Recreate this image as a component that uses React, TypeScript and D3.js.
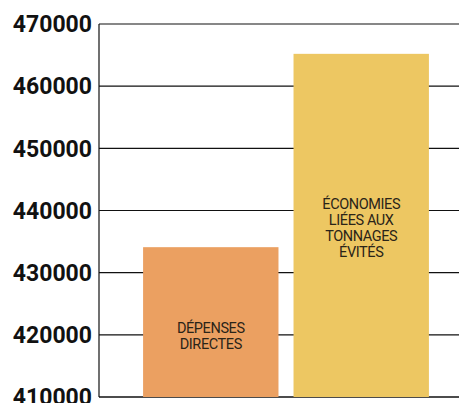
import React from "react";
import * as d3 from "d3";

const categories = ["DÉPENSES DIRECTES", "ÉCONOMIES LIÉES AUX TONNAGES ÉVITÉS"];
const labelLines = [["DÉPENSES", "DIRECTES"], ["ÉCONOMIES", "LIÉES AUX", "TONNAGES", "ÉVITÉS"]];
const values = [434100, 465200];
const colors = ["#EBA061", "#EDC762"];
const ticks = [410000, 420000, 430000, 440000, 450000, 460000, 470000];

const W = 459, H = 403;
const left = 99, right = 459, top = 24, bottom = 397;

export default function App() {
  const y = d3.scaleLinear().domain([410000, 470000]).range([bottom, top]);
  const x = d3.scaleBand().domain(categories).range([113, 459]).paddingInner(0.1).paddingOuter(0.2);
  return (
    <svg width={W} height={H} style={{ position: "absolute", left: 0, top: 0, background: "#fff" }}>
      {ticks.map((t) => (
        <g key={t}>
          <line x1={left} x2={right} y1={y(t)} y2={y(t)} stroke="#111" strokeWidth={t === 410000 ? 1.6 : 1.2} />
          <text x={92} y={y(t)} dy="0.36em" textAnchor="end" fontFamily="Roboto, sans-serif" fontWeight={700} fontSize={23} fill="#111">
            {t}
          </text>
        </g>
      ))}
      <line x1={left} x2={left} y1={top} y2={bottom} stroke="#111" strokeWidth={1.2} />
      {categories.map((c, i) => {
        const bx = x(c)!;
        const bw = x.bandwidth();
        const by = y(values[i]);
        const lines = labelLines[i];
        const cy = i === 0 ? 333 : 209;
        return (
          <g key={c}>
            <rect x={bx} y={by} width={bw} height={bottom - by} fill={colors[i]} />
            {lines.map((l, j) => (
              <text key={j} x={bx + bw / 2} y={cy + j * 16} textAnchor="middle" fontFamily="Roboto, sans-serif" fontSize={14.5} letterSpacing={-0.4} fill="#2a2418">
                {l}
              </text>
            ))}
          </g>
        );
      })}
    </svg>
  );
}
